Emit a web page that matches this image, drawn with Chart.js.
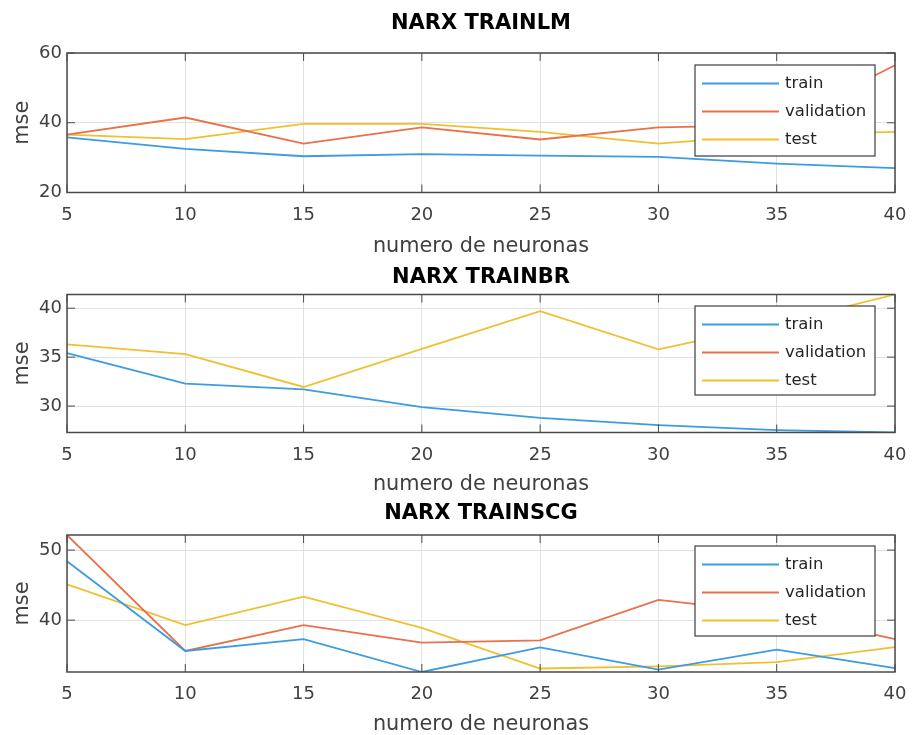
<!DOCTYPE html>
<html>
<head>
<meta charset="utf-8">
<script src="https://cdn.jsdelivr.net/npm/chart.js@4.4.0/dist/chart.umd.min.js"></script>
<style>
  body { margin: 0; background: #fff; }
  #wrap { position: relative; width: 913px; height: 735px; }
  canvas { position: absolute; left: 0; }
</style>
</head>
<body>
<div id="wrap">
  <canvas id="chart1" width="913" height="257" style="top:0px"></canvas>
  <canvas id="chart2" width="913" height="238" style="top:257px"></canvas>
  <canvas id="chart3" width="913" height="240" style="top:495px"></canvas>
</div>
<script>
    // x axis: number of neurons
    var neurons = [5, 10, 15, 20, 25, 30, 35, 40]
    var seriesNames = ['train', 'validation', 'test']

    // NARX TRAINLM
    var lmTrain = [35.8, 32.5, 30.4, 31.0, 30.6, 30.2, 28.3, 27.0]
    var lmValidation = [36.6, 41.5, 34.0, 38.7, 35.2, 38.7, 39.3, 56.5]
    var lmTest = [36.6, 35.3, 39.7, 39.7, 37.4, 34.0, 36.6, 37.4]

    // NARX TRAINBR (no validation set)
    var brTrain = [35.4, 32.3, 31.7, 29.9, 28.8, 28.05, 27.55, 27.3]
    var brValidation = [null, null, null, null, null, null, null, null]
    var brTest = [36.3, 35.3, 31.95, 35.85, 39.7, 35.8, 38.4, 41.4]

    // NARX TRAINSCG
    var scgTrain = [48.4, 35.6, 37.3, 32.6, 36.1, 32.95, 35.8, 33.15]
    var scgValidation = [52.15, 35.6, 39.3, 36.8, 37.1, 42.9, 41.0, 37.3]
    var scgTest = [45.1, 39.3, 43.35, 38.9, 33.1, 33.4, 34.0, 36.15]

    var colors = ['#3d9be0', '#e8704a', '#f0c030']
    var textColor = '#404040'
    var gridColor = '#e2e2e2'
    var frameColor = '#4a4a4a'

    Chart.defaults.font.family = '"DejaVu Sans", sans-serif'

    // legend box inside the axes + matlab style frame with inward ticks
    var matlabBox = {
        id: 'matlabBox',
        afterDatasetsDraw: function(chart, args, opts) {
            var ctx = chart.ctx
            var area = chart.chartArea
            var w = 180, h = opts.height
            var x = area.right - 20 - w, y = area.top + opts.top
            ctx.save()
            ctx.fillStyle = '#fff'
            ctx.fillRect(x, y, w, h)
            ctx.strokeStyle = '#3c3c3c'
            ctx.lineWidth = 1.2
            ctx.strokeRect(x, y, w, h)
            ctx.font = '16.5px "DejaVu Sans"'
            ctx.textBaseline = 'middle'
            chart.data.datasets.forEach(function(ds, i) {
                var ly = y + 18.5 + i * 28
                ctx.strokeStyle = ds.borderColor
                ctx.lineWidth = 1.8
                ctx.beginPath()
                ctx.moveTo(x + 7, ly)
                ctx.lineTo(x + 84, ly)
                ctx.stroke()
                ctx.fillStyle = '#262626'
                ctx.fillText(ds.label, x + 90, ly)
            })

            // frame
            ctx.strokeStyle = frameColor
            ctx.lineWidth = 1.5
            ctx.strokeRect(area.left, area.top, area.right - area.left, area.bottom - area.top)
            // inward tick marks
            ctx.lineWidth = 1
            ctx.beginPath()
            var xs = chart.scales.x, ys = chart.scales.y
            xs.ticks.forEach(function(t, i) {
                var px = xs.getPixelForTick(i)
                ctx.moveTo(px, area.bottom); ctx.lineTo(px, area.bottom - 8)
                ctx.moveTo(px, area.top); ctx.lineTo(px, area.top + 8)
            })
            ys.ticks.forEach(function(t) {
                var py = ys.getPixelForValue(t.value)
                ctx.moveTo(area.left, py); ctx.lineTo(area.left + 8, py)
                ctx.moveTo(area.right, py); ctx.lineTo(area.right - 8, py)
            })
            ctx.stroke()
            ctx.restore()
        }
    }

    function makeChart(id, title, series, y, box) {
        var ctx = document.getElementById(id).getContext('2d')
        return new Chart(ctx, {
            type: 'line',
            data: {
                labels: neurons,
                datasets: series.map(function(d, i) {
                    return {
                        label: seriesNames[i],
                        data: d,
                        borderColor: colors[i],
                        backgroundColor: colors[i],
                        borderWidth: 1.8,
                        pointRadius: 0,
                        tension: 0,
                        fill: false
                    }
                })
            },
            options: {
                responsive: false,
                animation: false,
                layout: { padding: { left: 0, right: 18, top: 0, bottom: 0 } },
                plugins: {
                    legend: { display: false },
                    tooltip: { enabled: false },
                    title: {
                        display: true,
                        fullSize: false, // centre over the axes, like matlab
                        text: title,
                        color: '#000',
                        font: { size: 21, weight: 'bold', lineHeight: 1.2 },
                        padding: box.titlePad
                    },
                    matlabBox: { top: box.legendTop, height: box.legendHeight }
                },
                scales: {
                    x: {
                        type: 'category',
                        grid: { color: gridColor, drawTicks: false },
                        border: { display: false },
                        ticks: {
                            color: textColor,
                            font: { size: 18 },
                            padding: 12,
                            maxRotation: 0,
                            autoSkip: false
                        },
                        title: {
                            display: true,
                            text: 'numero de neuronas',
                            color: textColor,
                            font: { size: 20.8, lineHeight: 1.2 },
                            padding: { top: 0, bottom: -2 }
                        },
                        afterFit: function(scale) {
                            scale.height = box.xHeight
                            scale.paddingRight = 0
                        }
                    },
                    y: {
                        type: 'linear',
                        min: y.min,
                        max: y.max,
                        grid: { color: gridColor, drawTicks: false },
                        border: { display: false },
                        ticks: {
                            stepSize: y.step,
                            includeBounds: false,
                            color: textColor,
                            font: { size: 18 },
                            padding: 5
                        },
                        title: {
                            display: true,
                            text: 'mse',
                            color: textColor,
                            font: { size: 20.8, lineHeight: 1.2 },
                            padding: { top: 10, bottom: 0 }
                        },
                        afterFit: function(scale) { scale.width = 67 }
                    }
                }
            },
            plugins: [matlabBox]
        })
    }

    makeChart('chart1', 'NARX TRAINLM', [lmTrain, lmValidation, lmTest],
        { min: 20, max: 60, step: 20 },
        { titlePad: { top: 11.4, bottom: 16.4 }, xHeight: 64.5, legendTop: 12, legendHeight: 91 })

    makeChart('chart2', 'NARX TRAINBR', [brTrain, brValidation, brTest],
        { min: 27.3, max: 41.4, step: 5 },
        { titlePad: { top: 8.4, bottom: 3.9 }, xHeight: 62.5, legendTop: 11.5, legendHeight: 89 })

    makeChart('chart3', 'NARX TRAINSCG', [scgTrain, scgValidation, scgTest],
        { min: 32.6, max: 52.15, step: 10 },
        { titlePad: { top: 5.5, bottom: 9.3 }, xHeight: 63, legendTop: 11, legendHeight: 90 })
</script>
</body>
</html>
